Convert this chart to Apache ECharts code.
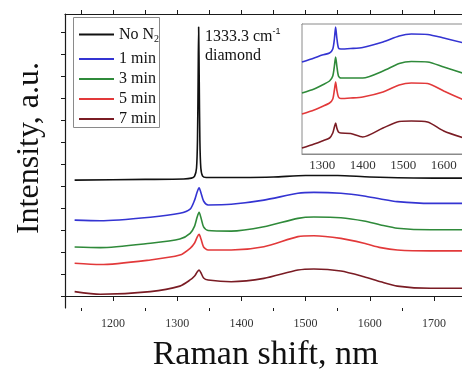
<!DOCTYPE html>
<html>
<head>
<meta charset="utf-8">
<script src="https://cdn.jsdelivr.net/npm/echarts@6/dist/echarts.min.js"></script>
<style>
  html, body { margin: 0; padding: 0; background: #fff; }
  #chart { width: 462px; height: 369px; }
</style>
</head>
<body>
<div id="chart"></div>
<script>
// Raman spectra of diamond films grown with different N2 exposure times

// ---- main panel: full spectra (arbitrary units, stacked) ----
const noN2X = [1140, 1250, 1310, 1322, 1327, 1330, 1331.5, 1332.5, 1333.3, 1334.2, 1335.2, 1336.7, 1339.5, 1345, 1400, 1450, 1500, 1550, 1600, 1700, 1745];
const noN2Y = [5.27, 5.30, 5.32, 5.36, 5.45, 5.82, 7.09, 9.82, 12.23, 9.82, 7.09, 5.82, 5.45, 5.39, 5.39, 5.41, 5.48, 5.48, 5.41, 5.36, 5.36];

const timeX = [1140, 1180, 1258, 1304, 1320, 1327, 1331, 1334, 1337, 1341, 1348, 1384, 1435, 1488, 1513, 1555, 1591, 1617, 1643, 1695, 1745];
const min1Y = [3.45, 3.42, 3.58, 3.76, 3.95, 4.36, 4.73, 4.92, 4.68, 4.32, 4.14, 4.17, 4.36, 4.67, 4.71, 4.67, 4.55, 4.41, 4.29, 4.21, 4.21];
const min3Y = [2.23, 2.20, 2.40, 2.59, 2.85, 3.18, 3.59, 3.80, 3.55, 3.14, 2.98, 2.95, 3.15, 3.53, 3.59, 3.56, 3.41, 3.23, 3.08, 3.01, 3.01];
const min5Y = [1.49, 1.43, 1.64, 1.86, 2.17, 2.41, 2.68, 2.80, 2.59, 2.23, 2.09, 2.09, 2.24, 2.70, 2.74, 2.62, 2.40, 2.20, 2.09, 2.05, 2.05];
const min7Y = [0.20, 0.08, 0.20, 0.45, 0.73, 0.91, 1.09, 1.18, 1.05, 0.82, 0.73, 0.65, 0.80, 1.18, 1.23, 1.14, 0.88, 0.65, 0.45, 0.35, 0.35];

// ---- inset: zoom on 1250-1650 region ----
const insetX = [1250, 1280, 1300, 1318, 1326, 1330, 1333, 1336, 1340, 1346, 1370, 1400, 1450, 1490, 1520, 1560, 1600, 1650];
const inset1Y = [9.2, 9.6, 9.9, 10.1, 10.5, 11.5, 12.7, 11.6, 10.6, 10.5, 10.55, 10.65, 11.2, 11.8, 12.0, 11.95, 11.6, 11.1];
const inset3Y = [6.1, 6.5, 6.9, 7.3, 7.8, 8.8, 9.7, 8.8, 7.8, 7.6, 7.6, 7.6, 8.3, 9.05, 9.25, 9.2, 8.7, 8.05];
const inset5Y = [4.0, 4.4, 4.75, 5.1, 5.5, 6.4, 7.2, 6.4, 5.7, 5.55, 5.6, 5.7, 6.2, 6.9, 7.1, 7.05, 6.3, 5.4];
const inset7Y = [0.6, 1.0, 1.3, 1.6, 2.1, 2.7, 3.1, 2.6, 2.2, 2.1, 2.05, 1.7, 2.6, 3.25, 3.3, 3.2, 2.3, 1.6];

// axis ticks
const mainLabelTicks = [1200, 1300, 1400, 1500, 1600, 1700];
const mainMinorTicks = [1150, 1250, 1350, 1450, 1550, 1650, 1750];
const mainTopTicks = [1150, 1200, 1250, 1300, 1350, 1400, 1450, 1500, 1550, 1600, 1650, 1700, 1750];
const mainYTicks = [0, 1, 2, 3, 4, 5, 6, 7, 8, 9, 10, 11, 12];
const insetLabelTicks = [1300, 1400, 1500, 1600];
const insetYTicks = [2.7, 5.25, 7.8, 10.35];

const seriesNames = ['No N2', '1 min', '3 min', '5 min', '7 min'];
const seriesColors = ['#111111', '#3434d2', '#2f8a3a', '#e2393a', '#7a1c24'];

const SERIF = '"Liberation Serif", "DejaVu Serif", serif';
const zip = (xs, ys) => xs.map((x, i) => [x, ys[i]]);
const plainNum = v => String(v);

const mainData = [zip(noN2X, noN2Y), zip(timeX, min1Y), zip(timeX, min3Y), zip(timeX, min5Y), zip(timeX, min7Y)];
const insetData = [zip(insetX, inset1Y), zip(insetX, inset3Y), zip(insetX, inset5Y), zip(insetX, inset7Y)];

const series = [];
mainData.forEach((d, i) => {
  series.push({
    name: seriesNames[i], type: 'line', xAxisIndex: 0, yAxisIndex: 0,
    data: d, symbol: 'none', smooth: 0.25, z: 3,
    lineStyle: { color: seriesColors[i], width: 1.6 },
    itemStyle: { color: seriesColors[i] }
  });
});
insetData.forEach((d, i) => {
  series.push({
    name: seriesNames[i + 1], type: 'line', xAxisIndex: 3, yAxisIndex: 1,
    data: d, symbol: 'none', smooth: 0.25, z: 6,
    lineStyle: { color: seriesColors[i + 1], width: 1.6 },
    itemStyle: { color: seriesColors[i + 1] }
  });
});

// shared legend look; the box around both legend blocks is a graphic rect
const legendBase = {
  orient: 'vertical', left: 78, padding: 0,
  itemWidth: 35, itemHeight: 14, itemGap: 4,
  itemStyle: { opacity: 0 },
  selectedMode: false,
  textStyle: {
    fontFamily: SERIF, fontSize: 16, color: '#111', lineHeight: 14, padding: [0, 0, 0, 0],
    rich: { sub: { fontFamily: SERIF, fontSize: 10, lineHeight: 14, padding: [9, 0, 0, 0] } }
  },
  formatter: name => name === 'No N2' ? 'No N{sub|2}' : name
};

const chart = echarts.init(document.getElementById('chart'), null, { renderer: 'canvas' });

chart.setOption({
  animation: false,
  backgroundColor: '#ffffff',
  grid: [
    { left: 65, top: 14, width: 401, height: 294, containLabel: false, outerBoundsMode: 'none' },
    { left: 302, top: 24, width: 162, height: 130, show: true, backgroundColor: '#ffffff', borderColor: '#8a8a8a', borderWidth: 1, z: 5, containLabel: false, outerBoundsMode: 'none' }
  ],
  xAxis: [
    { // main bottom: labelled ticks
      type: 'value', gridIndex: 0, position: 'bottom', min: 1125, max: 1750,
      splitLine: { show: false },
      axisLine: { lineStyle: { color: '#1a1a1a', width: 1.2 } },
      axisTick: { inside: false, length: 5, customValues: mainLabelTicks, lineStyle: { color: '#1a1a1a' } },
      axisLabel: { customValues: mainLabelTicks, formatter: plainNum, fontFamily: SERIF, fontSize: 12, color: '#333', margin: 10 },
      name: 'Raman shift, nm', nameLocation: 'middle', nameGap: 30,
      nameTextStyle: { fontFamily: SERIF, fontSize: 34, color: '#111', verticalAlign: 'top' }
    },
    { // main bottom: minor ticks
      type: 'value', gridIndex: 0, position: 'bottom', min: 1125, max: 1750,
      splitLine: { show: false }, axisLine: { show: false }, axisLabel: { show: false },
      axisTick: { inside: false, length: 3, customValues: mainMinorTicks, lineStyle: { color: '#1a1a1a' } }
    },
    { // main top
      type: 'value', gridIndex: 0, position: 'top', min: 1125, max: 1750,
      splitLine: { show: false }, axisLabel: { show: false },
      axisLine: { lineStyle: { color: '#1a1a1a', width: 1.2 } },
      axisTick: { inside: false, length: 4, customValues: mainTopTicks, lineStyle: { color: '#1a1a1a' } }
    },
    { // inset bottom
      type: 'value', gridIndex: 1, position: 'bottom', min: 1250, max: 1650,
      splitLine: { show: false },
      axisLine: { lineStyle: { color: '#8a8a8a', width: 1 } },
      axisTick: { inside: true, length: 3, customValues: insetLabelTicks, lineStyle: { color: '#8a8a8a' } },
      axisLabel: { customValues: insetLabelTicks, formatter: plainNum, fontFamily: SERIF, fontSize: 13, color: '#333', margin: 5 }
    },
    { // inset top
      type: 'value', gridIndex: 1, position: 'top', min: 1250, max: 1650,
      splitLine: { show: false }, axisLabel: { show: false },
      axisLine: { lineStyle: { color: '#8a8a8a', width: 1 } },
      axisTick: { inside: true, length: 3, customValues: insetLabelTicks, lineStyle: { color: '#8a8a8a' } }
    }
  ],
  yAxis: [
    {
      type: 'value', gridIndex: 0, position: 'left', min: -0.545, max: 12.82,
      splitLine: { show: false }, axisLabel: { show: false },
      axisLine: { show: true, lineStyle: { color: '#1a1a1a', width: 1.2 } },
      axisTick: { show: true, inside: false, length: 4, customValues: mainYTicks, lineStyle: { color: '#1a1a1a' } }
    },
    {
      type: 'value', gridIndex: 1, position: 'left', min: 0, max: 13,
      splitLine: { show: false }, axisLabel: { show: false },
      axisLine: { show: true, lineStyle: { color: '#8a8a8a', width: 1 } },
      axisTick: { show: true, inside: true, length: 3, customValues: insetYTicks, lineStyle: { color: '#8a8a8a' } }
    }
  ],
  legend: [
    Object.assign({}, legendBase, { data: [seriesNames[0]], top: 25 }),
    Object.assign({}, legendBase, { data: seriesNames.slice(1), top: 51 })
  ],
  graphic: [
    {
      type: 'rect', z: 4,
      shape: { x: 73.5, y: 17.5, width: 86, height: 110 },
      style: { fill: '#ffffff', stroke: '#8a8a8a', lineWidth: 1 }
    },
    {
      type: 'text', left: 205, top: 27, z: 10,
      style: {
        text: '1333.3 cm{sup|-1}\ndiamond',
        font: '16px ' + SERIF, fill: '#111', lineHeight: 19,
        rich: { sup: { fontSize: 9, verticalAlign: 'top', padding: [0, 0, 8, 0], fill: '#111' } }
      }
    },
    {
      type: 'text', z: 10,
      x: 30, y: 148, rotation: Math.PI / 2,
      style: { text: 'Intensity, a.u.', font: '32px ' + SERIF, fill: '#111', align: 'center', verticalAlign: 'middle' }
    }
  ],
  series: series
});
</script>
</body>
</html>
